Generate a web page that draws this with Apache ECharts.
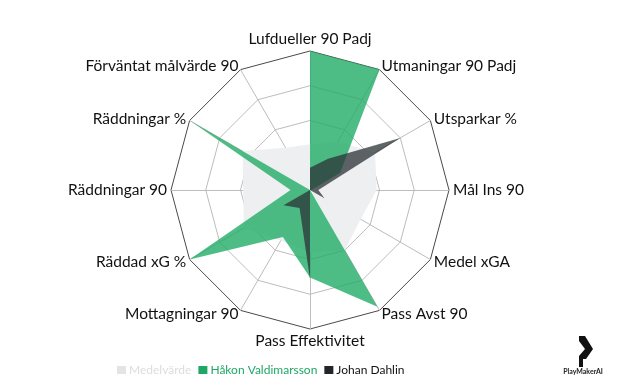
<!DOCTYPE html>
<html><head><meta charset="utf-8">
<script src="https://cdn.jsdelivr.net/npm/echarts@6/dist/echarts.min.js"></script>
<style>html,body{margin:0;padding:0;background:#fff}#c{width:620px;height:379px}</style>
</head><body><div id="c"></div>
<script>
// Indicators in clockwise order starting at the top
const indicators = ["Lufdueller 90 Padj","Utmaningar 90 Padj","Utsparkar %","Mål Ins 90","Medel xGA","Pass Avst 90","Pass Effektivitet","Mottagningar 90","Räddad xG %","Räddningar 90","Räddningar %","Förväntat målvärde 90"];
const seriesNames = ["Medelvärde","Håkon Valdimarsson","Johan Dahlin"];
const medelvarde = [33,40,54,48,42,50,45,42,55,48,56,35];
const hakon = [100,100,25,1,0,97,63,39,100,14,100,0];
const johan = [16,26,75,6,12,0,64,15,22,0,40,0];
const maxValue = 100;

// ECharts places radar indicators counter-clockwise; reorder to get clockwise layout
function ccw(arr){ return [arr[0]].concat(arr.slice(1).reverse()); }

const chart = echarts.init(document.getElementById('c'), null, {renderer:'canvas'});
const font = 'Lato, "Noto Sans", sans-serif';
chart.setOption({
  animation:false,
  backgroundColor:'#fff',
  legend:{
    left:112, top:359, itemWidth:9, itemHeight:8, itemGap:7, icon:'rect',
    textStyle:{fontFamily:font, fontSize:12, padding:[0,0,0,-2]},
    data:[
      {name:seriesNames[0], itemStyle:{color:'#e3e4e6'}, textStyle:{color:'#dcdde0'}},
      {name:seriesNames[1], itemStyle:{color:'#1fa865'}, textStyle:{color:'#1fa865'}},
      {name:seriesNames[2], itemStyle:{color:'#222629'}, textStyle:{color:'#111'}}
    ]
  },
  radar:{
    center:[310,190], radius:139, shape:'polygon', splitNumber:4, startAngle:90,
    indicator: ccw(indicators).map(n=>({name:n, min:0, max:maxValue})),
    axisName:{color:'#111', fontFamily:font, fontSize:15.5},
    nameGap:4,
    axisLine:{lineStyle:{color:'#bdbdbd', width:1}},
    splitLine:{lineStyle:{color:['#bdbdbd','#bdbdbd','#bdbdbd','#bdbdbd','#4a4a4a'], width:1}},
    splitArea:{show:false}
  },
  series:[{
    type:'radar', symbol:'none',
    data:[
      {name:seriesNames[0], value:ccw(medelvarde), lineStyle:{width:0}, areaStyle:{color:'#eeeff1', opacity:1}, itemStyle:{color:'#e3e4e6'}},
      {name:seriesNames[1], value:ccw(hakon), lineStyle:{width:0}, areaStyle:{color:'#22ac66', opacity:0.8}, itemStyle:{color:'#1fa865'}},
      {name:seriesNames[2], value:ccw(johan), lineStyle:{width:0}, areaStyle:{color:'#2b3235', opacity:0.75}, itemStyle:{color:'#222629'}}
    ]
  }],
  graphic:[
    {type:'polygon', shape:{points:[[579,336],[585,336],[593,349],[586,359],[583,359],[583,367],[579,367],[579,356],[585,349],[579,341]]}, style:{fill:'#111'}},
    {type:'text', x:583, y:372, style:{text:'PlayMakerAI', fontSize:7, fontWeight:'bold', fontFamily:font, fill:'#222', align:'center', verticalAlign:'middle'}}
  ]
});
</script></body></html>
